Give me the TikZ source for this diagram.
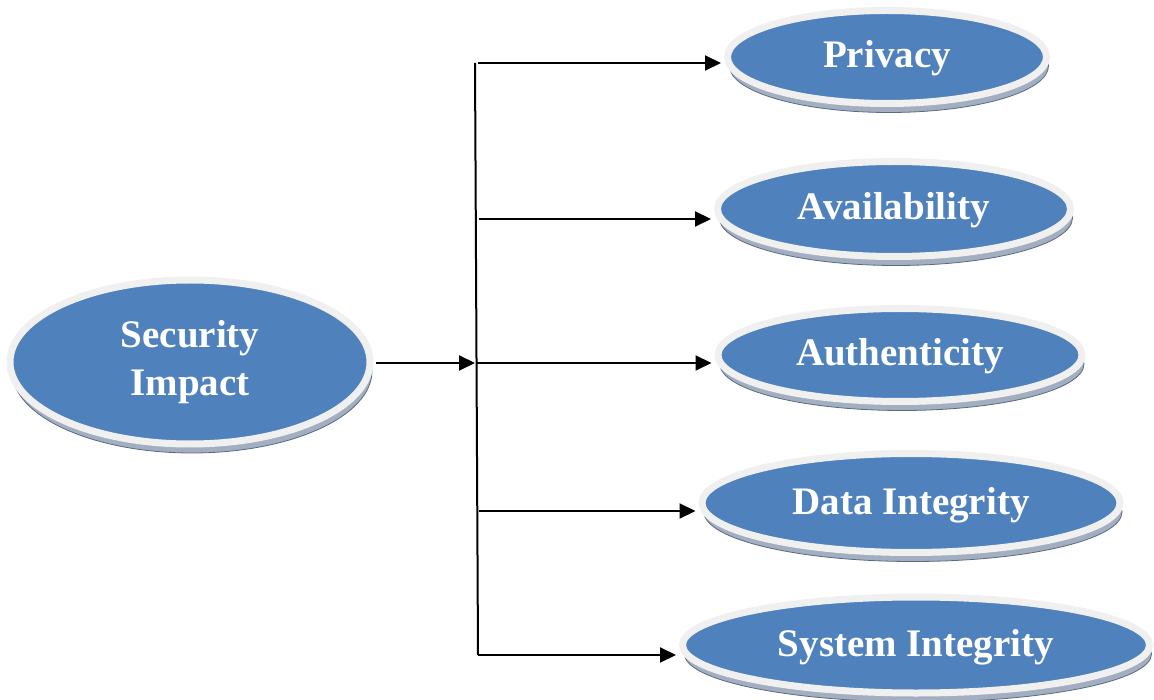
\documentclass[tikz,border=0pt]{standalone}
\usepackage{fontspec}
\setmainfont{Liberation Serif}
\usetikzlibrary{arrows.meta,shapes.geometric,shadows}
\definecolor{bubbleblue}{HTML}{4F81BD}
\definecolor{ringgray}{HTML}{F0F0F0}
\definecolor{rimfill}{HTML}{A3AFC0}
\definecolor{rimedge}{HTML}{5A6A82}
\begin{document}
\begin{tikzpicture}[x=1pt,y=-1pt,
  bubble/.style={ellipse, inner sep=0pt, fill=bubbleblue, draw=ringgray,
    line width=7pt, text=white, align=center,
    font=\fontsize{39}{48}\selectfont\bfseries,
    general shadow={shadow xshift=2pt, shadow yshift=-9pt,
      fill=rimfill, draw=rimedge, line width=0.8pt}},
  oneline/.style={text height=27pt, text depth=5pt},
  trunk/.style={line width=2pt},
  link/.style={trunk, -{Triangle[length=16pt,width=15pt]}, shorten >=3pt}]
\useasboundingbox (0,0) rectangle (1154,700);

% the source and the five impact areas
\node[bubble, minimum width=360pt, minimum height=164pt] (sec) at (190,362) {Security\\Impact};
\node[bubble, oneline, minimum width=319pt, minimum height=93pt] (priv) at (887,57) {Privacy};
\node[bubble, oneline, minimum width=353pt, minimum height=95pt] (avail) at (894,209) {Availability};
\node[bubble, oneline, minimum width=364pt, minimum height=93pt] (auth) at (900,355) {Authenticity};
\node[bubble, oneline, minimum width=418pt, minimum height=99pt] (data) at (911,503) {Data Integrity};
\node[bubble, oneline, minimum width=467pt, minimum height=96pt] (sys) at (916,645) {System Integrity};

% junctions on the vertical distribution line
\coordinate (ttop) at (475,63);
\coordinate (tbot) at (478,655);
\coordinate (j1) at (478,63);
\coordinate (j2) at (479,219);
\coordinate (j3) at (477,363);
\coordinate (j4) at (479,511);
\coordinate (sin) at (376,363);

\draw[trunk] (ttop) -- (tbot);
\draw[link, shorten >=0pt] (sin) -- (ttop |- sin);
\draw[link] (j1) -- (j1 -| priv.west);
\draw[link] (j2) -- (j2 -| avail.west);
\draw[link] (j3) -- (j3 -| auth.west);
\draw[link] (j4) -- (j4 -| data.west);
\draw[link] (tbot) -- (tbot -| sys.west);
\end{tikzpicture}
\end{document}
